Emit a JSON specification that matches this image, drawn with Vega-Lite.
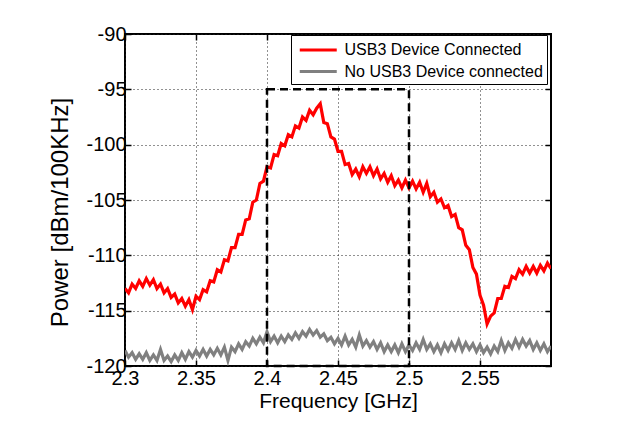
{
 "$schema": "https://vega.github.io/schema/vega-lite/v6.json",
 "width": 426, "height": 332,
 "autosize": {"type": "none"},
 "padding": {"left": 125, "top": 34, "right": 89, "bottom": 61},
 "background": "white",
 "config": {
  "font": "Liberation Sans",
  "view": {"stroke": "black", "strokeWidth": 2},
  "axis": {"labelFont": "Liberation Sans", "titleFont": "Liberation Sans", "labelColor": "black", "titleColor": "black", "titleFontWeight": "normal", "domain": false, "tickColor": "black", "tickWidth": 1.5, "tickSize": -6, "gridColor": "#222", "gridDash": [1, 3], "gridWidth": 1, "gridOpacity": 1}
 },
 "datasets": {
  "spectrum": [
   {"f":2.3000,"c":-113.0,"n":-118.6},{"f":2.3025,"c":-113.4,"n":-119.2},{"f":2.3050,"c":-112.6,"n":-118.8},{"f":2.3075,"c":-113.0,"n":-119.4},
   {"f":2.3100,"c":-112.3,"n":-118.9},{"f":2.3125,"c":-112.8,"n":-119.4},{"f":2.3150,"c":-112.1,"n":-118.8},{"f":2.3175,"c":-112.7,"n":-119.5},
   {"f":2.3200,"c":-112.2,"n":-119.0},{"f":2.3225,"c":-113.0,"n":-119.5},{"f":2.3250,"c":-112.6,"n":-118.5},{"f":2.3275,"c":-113.4,"n":-119.5},
   {"f":2.3300,"c":-113.0,"n":-119.1},{"f":2.3325,"c":-113.8,"n":-119.6},{"f":2.3350,"c":-113.5,"n":-119.0},{"f":2.3375,"c":-114.3,"n":-119.5},
   {"f":2.3400,"c":-113.9,"n":-118.8},{"f":2.3425,"c":-114.6,"n":-119.4},{"f":2.3450,"c":-114.0,"n":-118.7},{"f":2.3475,"c":-114.9,"n":-119.2},
   {"f":2.3500,"c":-113.7,"n":-118.6},{"f":2.3525,"c":-114.0,"n":-119.1},{"f":2.3550,"c":-113.1,"n":-118.5},{"f":2.3575,"c":-113.3,"n":-119.1},
   {"f":2.3600,"c":-112.3,"n":-118.5},{"f":2.3625,"c":-112.4,"n":-119.0},{"f":2.3650,"c":-111.3,"n":-118.4},{"f":2.3675,"c":-111.5,"n":-119.0},
   {"f":2.3700,"c":-110.4,"n":-118.3},{"f":2.3725,"c":-110.5,"n":-119.5},{"f":2.3750,"c":-109.3,"n":-118.3},{"f":2.3775,"c":-109.3,"n":-118.7},
   {"f":2.3800,"c":-108.1,"n":-118.0},{"f":2.3825,"c":-108.1,"n":-118.5},{"f":2.3850,"c":-106.8,"n":-117.8},{"f":2.3875,"c":-106.7,"n":-118.2},
   {"f":2.3900,"c":-105.2,"n":-117.5},{"f":2.3925,"c":-105.0,"n":-118.0},{"f":2.3950,"c":-103.5,"n":-117.4},{"f":2.3975,"c":-103.3,"n":-117.9},
   {"f":2.4000,"c":-102.0,"n":-116.9},{"f":2.4025,"c":-102.1,"n":-117.8},{"f":2.4050,"c":-100.9,"n":-117.3},{"f":2.4075,"c":-101.0,"n":-117.9},
   {"f":2.4100,"c":-99.9,"n":-117.3},{"f":2.4125,"c":-100.1,"n":-117.8},{"f":2.4150,"c":-99.1,"n":-117.2},{"f":2.4175,"c":-99.3,"n":-117.6},
   {"f":2.4200,"c":-98.3,"n":-117.0},{"f":2.4225,"c":-98.5,"n":-117.5},{"f":2.4250,"c":-97.5,"n":-116.9},{"f":2.4275,"c":-97.8,"n":-117.3},
   {"f":2.4300,"c":-96.9,"n":-116.7},{"f":2.4325,"c":-97.3,"n":-117.2},{"f":2.4350,"c":-96.7,"n":-116.8},{"f":2.4375,"c":-96.3,"n":-117.4},
   {"f":2.4400,"c":-98.0,"n":-117.1},{"f":2.4425,"c":-98.1,"n":-117.7},{"f":2.4450,"c":-99.3,"n":-117.4},{"f":2.4475,"c":-99.5,"n":-118.0},
   {"f":2.4500,"c":-100.6,"n":-117.5},{"f":2.4525,"c":-100.6,"n":-118.1},{"f":2.4550,"c":-101.8,"n":-117.3},{"f":2.4575,"c":-101.7,"n":-118.1},
   {"f":2.4600,"c":-102.7,"n":-117.6},{"f":2.4625,"c":-102.2,"n":-118.3},{"f":2.4650,"c":-102.9,"n":-117.2},{"f":2.4675,"c":-102.0,"n":-118.2},
   {"f":2.4700,"c":-102.6,"n":-117.7},{"f":2.4725,"c":-102.0,"n":-118.3},{"f":2.4750,"c":-102.8,"n":-117.8},{"f":2.4775,"c":-102.2,"n":-118.5},
   {"f":2.4800,"c":-103.1,"n":-117.9},{"f":2.4825,"c":-102.6,"n":-118.7},{"f":2.4850,"c":-103.4,"n":-118.1},{"f":2.4875,"c":-102.8,"n":-118.7},
   {"f":2.4900,"c":-103.7,"n":-118.1},{"f":2.4925,"c":-103.2,"n":-118.8},{"f":2.4950,"c":-103.9,"n":-118.0},{"f":2.4975,"c":-103.2,"n":-118.7},
   {"f":2.5000,"c":-103.9,"n":-118.1},{"f":2.5025,"c":-103.3,"n":-118.6},{"f":2.5050,"c":-104.0,"n":-117.9},{"f":2.5075,"c":-103.4,"n":-118.5},
   {"f":2.5100,"c":-104.3,"n":-117.6},{"f":2.5125,"c":-103.5,"n":-118.5},{"f":2.5150,"c":-104.7,"n":-118.0},{"f":2.5175,"c":-104.3,"n":-118.7},
   {"f":2.5200,"c":-105.2,"n":-118.1},{"f":2.5225,"c":-104.9,"n":-118.8},{"f":2.5250,"c":-105.7,"n":-118.0},{"f":2.5275,"c":-105.5,"n":-118.6},
   {"f":2.5300,"c":-106.5,"n":-117.9},{"f":2.5325,"c":-106.3,"n":-118.5},{"f":2.5350,"c":-107.5,"n":-117.7},{"f":2.5375,"c":-107.7,"n":-118.6},
   {"f":2.5400,"c":-109.1,"n":-117.9},{"f":2.5425,"c":-109.5,"n":-118.5},{"f":2.5450,"c":-111.1,"n":-118.0},{"f":2.5475,"c":-111.7,"n":-118.7},
   {"f":2.5500,"c":-113.6,"n":-118.1},{"f":2.5525,"c":-114.5,"n":-118.8},{"f":2.5550,"c":-116.2,"n":-118.3},{"f":2.5575,"c":-115.5,"n":-118.9},
   {"f":2.5600,"c":-115.2,"n":-118.2},{"f":2.5625,"c":-113.9,"n":-118.7},{"f":2.5650,"c":-113.9,"n":-117.7},{"f":2.5675,"c":-112.8,"n":-118.6},
   {"f":2.5700,"c":-112.9,"n":-117.9},{"f":2.5725,"c":-111.9,"n":-118.4},{"f":2.5750,"c":-112.1,"n":-117.6},{"f":2.5775,"c":-111.3,"n":-118.3},
   {"f":2.5800,"c":-111.7,"n":-117.6},{"f":2.5825,"c":-111.0,"n":-118.2},{"f":2.5850,"c":-111.6,"n":-117.7},{"f":2.5875,"c":-111.0,"n":-118.5},
   {"f":2.5900,"c":-111.6,"n":-117.9},{"f":2.5925,"c":-110.9,"n":-118.6},{"f":2.5950,"c":-111.4,"n":-118.0},{"f":2.5975,"c":-110.7,"n":-118.7},
   {"f":2.6000,"c":-111.2,"n":-118.2}
  ]
 },
 "layer": [
  {
   "data": {"name": "spectrum"},
   "transform": [{"fold": ["c", "n"], "as": ["series", "power"]}],
   "mark": {"type": "line", "strokeWidth": 3.2, "clip": true},
   "encoding": {
    "x": {"field": "f", "type": "quantitative",
      "scale": {"domain": [2.3, 2.6], "nice": false, "zero": false},
      "axis": {"orient": "bottom", "values": [2.3, 2.35, 2.4, 2.45, 2.5, 2.55], "format": "~g", "labelFontSize": 20, "labelPadding": 8, "labelFlush": false, "title": "Frequency [GHz]", "titleFontSize": 21, "titlePadding": 2, "grid": true}},
    "y": {"field": "power", "type": "quantitative",
      "scale": {"domain": [-120, -90], "nice": false, "zero": false},
      "axis": {"orient": "left", "values": [-120, -115, -110, -105, -100, -95, -90], "labelExpr": "datum.value + ''", "labelFontSize": 20, "labelPadding": 5, "labelFlush": false, "title": "Power [dBm/100KHz]", "titleFontSize": 24, "titleX": -53, "titleY": 178, "grid": true}},
    "color": {"field": "series", "type": "nominal",
      "scale": {"domain": ["c", "n"], "range": ["#ff0000", "#808080"]},
      "legend": {"orient": "none", "legendX": 166, "legendY": 1, "title": null,
        "labelExpr": "datum.value == 'c' ? 'USB3 Device Connected' : 'No USB3 Device connected'",
        "fillColor": "white", "strokeColor": "black", "padding": 4, "rowPadding": 2.5,
        "labelFontSize": 16, "labelFont": "Liberation Sans", "labelColor": "black", "labelOffset": 6, "labelLimit": 400,
        "symbolType": "M-3,0H1", "symbolSize": 342, "symbolOffset": 21.5, "symbolStrokeWidth": 3, "symbolFillColor": "transparent"}}
   }
  },
  {
   "data": {"values": [{"fa": 2.4, "fb": 2.5, "pa": -120, "pb": -95}]},
   "mark": {"type": "rect", "fillOpacity": 0, "stroke": "black", "strokeWidth": 2.5, "strokeDash": [8, 5]},
   "encoding": {
    "x": {"field": "fa", "type": "quantitative", "axis": {"orient": "top", "values": [2.3, 2.35, 2.4, 2.45, 2.5, 2.55], "labels": false, "title": null, "grid": false}},
    "x2": {"field": "fb"},
    "y": {"field": "pa", "type": "quantitative", "axis": {"orient": "right", "values": [-120, -115, -110, -105, -100, -95, -90], "labels": false, "title": null, "grid": false}},
    "y2": {"field": "pb"}
   }
  }
 ],
 "resolve": {"axis": {"x": "independent", "y": "independent"}}
}
